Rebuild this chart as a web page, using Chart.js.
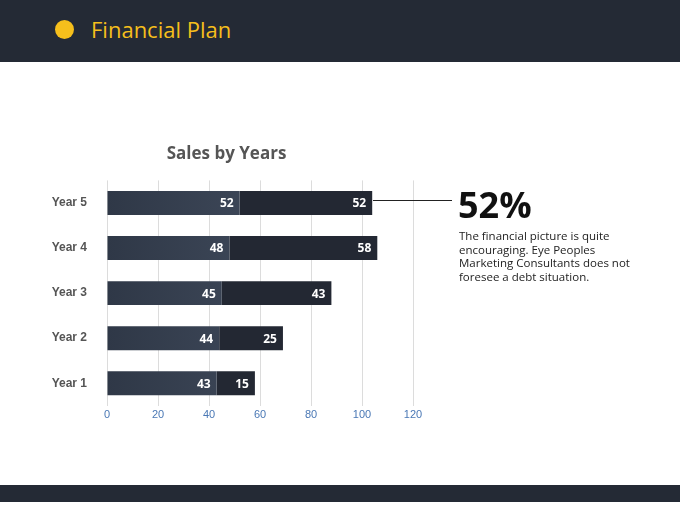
<!DOCTYPE html>
<html><head><meta charset="utf-8">
<script src="https://cdn.jsdelivr.net/npm/chart.js@4"></script>
<style>
body{margin:0;width:680px;height:510px;background:#fff;position:relative;overflow:hidden;font-family:"Open Sans",sans-serif}
#hdr{position:absolute;left:0;top:0;width:680px;height:62px;background:#242a35}
#dot{position:absolute;left:55px;top:20px;width:19px;height:19px;border-radius:50%;background:#f6bf1c}
#ht{position:absolute;left:91px;top:14px;font-size:22px;color:#f6bf1c}
#ftr{position:absolute;left:0;top:485px;width:680px;height:17px;background:#242a35}
#cw{position:absolute;left:40px;top:140px;width:400px;height:285px}
#big{position:absolute;left:458px;top:180px;font-size:36px;font-weight:bold;color:#111}
#line{position:absolute;left:373px;top:200px;width:79px;height:1px;background:#222}
#para{position:absolute;left:459px;top:229px;width:180px;font-size:11.5px;line-height:13.5px;color:#222}
</style></head><body>
<div id="hdr"><div id="dot"></div><div id="ht">Financial Plan</div></div>
<div id="cw"><canvas id="c"></canvas></div>
<div id="line"></div>
<div id="big">52%</div>
<div id="para">The financial picture is quite encouraging. Eye Peoples Marketing Consultants does not foresee a debt situation.</div>
<div id="ftr"></div>
<script>
const categories=["Year 5","Year 4","Year 3","Year 2","Year 1"];
const seriesA=[52,48,45,44,43];
const seriesB=[52,58,43,25,15];
const ctx=document.getElementById('c');
const labelsPlugin={id:'lbl',afterDatasetsDraw(ch){const c=ch.ctx;c.save();c.font='bold 12px "Open Sans"';c.fillStyle='#fff';c.textAlign='right';c.textBaseline='middle';
ch.data.datasets.forEach((d,i)=>{ch.getDatasetMeta(i).data.forEach((b,j)=>{c.fillText(d.data[j],b.x-6,b.y+1);});});c.restore();}};
new Chart(ctx,{type:'bar',data:{labels:categories,datasets:[
{data:seriesA,backgroundColor:(cx)=>{const a=cx.chart.chartArea;if(!a)return '#353e4e';const g=cx.chart.ctx.createLinearGradient(a.left,0,a.left+150,0);g.addColorStop(0,'#2f3847');g.addColorStop(1,'#3d4758');return g;},barPercentage:1,categoryPercentage:0.53},
{data:seriesB,backgroundColor:'#232833',barPercentage:1,categoryPercentage:0.53}]},
options:{indexAxis:'y',responsive:true,maintainAspectRatio:false,animation:false,
layout:{padding:{right:27,top:0,bottom:0}},
plugins:{legend:{display:false},tooltip:{enabled:false},title:{display:true,text:'Sales by Years',color:'#555',font:{family:'Open Sans',size:17,weight:'bold'},padding:{top:4,bottom:16}}},
scales:{x:{stacked:true,min:0,max:120,ticks:{stepSize:20,color:'#4a78b5',font:{size:11}},grid:{color:'#dcdcdc',drawTicks:false},border:{display:false}},
y:{stacked:true,ticks:{color:'#555',font:{size:12,weight:'bold'},padding:12},grid:{display:false},border:{display:false},afterFit(s){s.width=67;}}}},
plugins:[labelsPlugin]});
</script></body></html>
